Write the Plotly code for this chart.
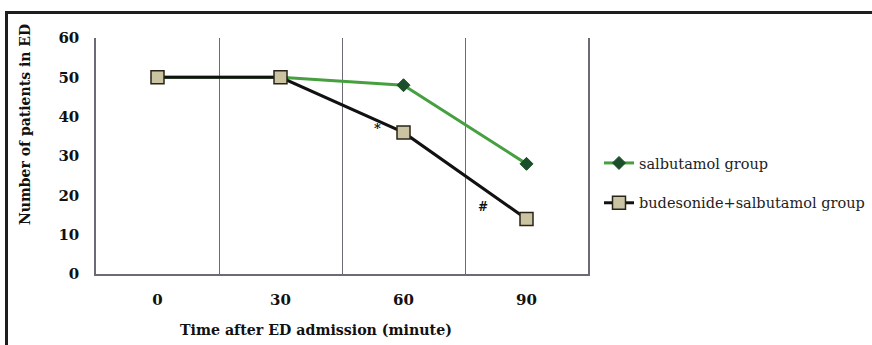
import plotly.graph_objects as go

categories = ["0", "30", "60", "90"]
salbutamol = [50, 50, 48, 28]
budesonide = [50, 50, 36, 14]
y_ticks = [0, 10, 20, 30, 40, 50, 60]

W, H = 872, 345
L, R, T, B = 96, 284, 38, 71
pw, ph = W - L - R, H - T - B

def px(xp):
    return (xp - L) / pw

def py(yp):
    return (H - B - yp) / ph

serif = "DejaVu Serif"
fig = go.Figure()
fig.add_trace(go.Scatter(
    x=categories, y=salbutamol, mode="lines+markers", name="salbutamol group",
    line=dict(color="#46a040", width=3),
    marker=dict(symbol="diamond", size=10, color="#1b4f2a", line=dict(color="#1b4f2a", width=1)),
    legendgroup="a",
))
fig.add_trace(go.Scatter(
    x=categories, y=budesonide, mode="lines+markers", name="budesonide+salbutamol group",
    line=dict(color="#111111", width=3),
    marker=dict(symbol="square", size=13, color="#cbc4a3", line=dict(color="#2a2418", width=1.5)),
    legendgroup="b",
))

fig.add_annotation(x=1.79, y=37, text="<b>*</b>", showarrow=False, xref="x", yref="y",
                   font=dict(family=serif, size=13, color="#111"))
fig.add_annotation(x=2.65, y=17, text="<b>#</b>", showarrow=False, xref="x", yref="y",
                   font=dict(family=serif, size=12, color="#111"))

# axis titles (placed like the original, off-centre)
fig.add_annotation(x=px(316), y=py(330), xref="paper", yref="paper", showarrow=False,
                   xanchor="center", yanchor="middle",
                   text="<b>Time after ED admission (minute)</b>",
                   font=dict(family=serif, size=14.2, color="#111"))
fig.add_annotation(x=px(25), y=py(125), xref="paper", yref="paper", showarrow=False,
                   xanchor="center", yanchor="middle",
                   text="<b>Number of patients in ED</b>", textangle=-90,
                   font=dict(family=serif, size=14, color="#111"))

# outer frame (top and left edges visible)
fig.add_shape(type="path", xref="paper", yref="paper",
              path=f"M {px(6.5)} {py(400)} L {px(6.5)} {py(12.5)} L {px(900)} {py(12.5)}",
              line=dict(color="#1e1e1e", width=3))

fig.update_layout(
    width=W, height=H,
    margin=dict(l=L, r=R, t=T, b=B, pad=0, autoexpand=False),
    paper_bgcolor="white", plot_bgcolor="white",
    showlegend=True,
    legend=dict(x=px(599), y=py(147), xanchor="left", yanchor="top",
                font=dict(family=serif, size=14.5, color="#222"),
                tracegroupgap=18, traceorder="grouped",
                bgcolor="rgba(0,0,0,0)", itemwidth=30),
    xaxis=dict(
        type="category", range=[-0.5, 3.5],
        tickson="boundaries", showgrid=True, gridcolor="#6b6b78", gridwidth=1.2,
        showline=True, linecolor="#6b6b78", linewidth=1.5,
        ticks="", tickfont=dict(family=serif, size=15, color="#111", weight="bold"),
        ticklabelstandoff=11,
        zeroline=False,
    ),
    yaxis=dict(
        range=[0, 60], tickvals=y_ticks, showgrid=False,
        showline=True, linecolor="#6b6b78", linewidth=1.5, mirror=True,
        ticks="", tickfont=dict(family=serif, size=15, color="#111", weight="bold"),
        ticklabelstandoff=12,
        zeroline=False,
    ),
)

fig.write_html("out.html", config={"displayModeBar": False},
               post_script="document.body.style.margin='0';document.body.style.overflow='hidden';")
